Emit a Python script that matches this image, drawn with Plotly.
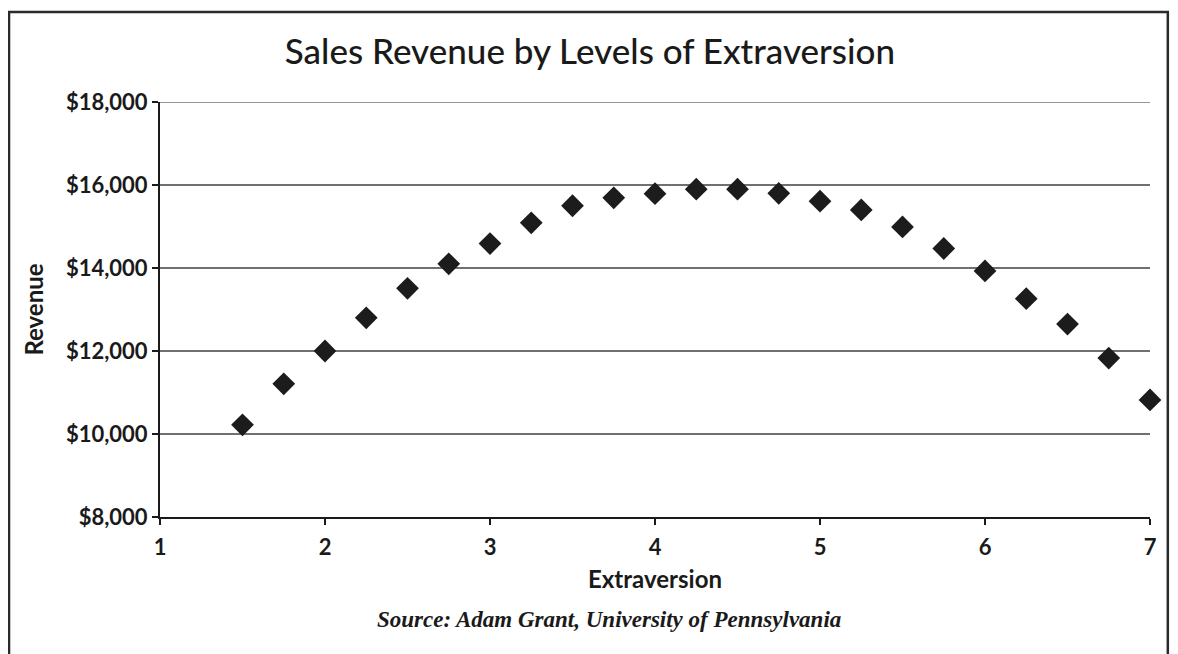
import plotly.graph_objects as go

extraversion = [1.5, 1.75, 2.0, 2.25, 2.5, 2.75, 3.0, 3.25, 3.5, 3.75, 4.0, 4.25,
                4.5, 4.75, 5.0, 5.25, 5.5, 5.75, 6.0, 6.25, 6.5, 6.75, 7.0]
revenue = [10220, 11210, 12000, 12800, 13510, 14100, 14590, 15090, 15500, 15690, 15790, 15900,
           15900, 15800, 15610, 15400, 14990, 14470, 13930, 13260, 12650, 11830, 10820]
x_ticks = [1, 2, 3, 4, 5, 6, 7]
y_ticks = [8000, 10000, 12000, 14000, 16000, 18000]
y_tick_labels = ["$8,000", "$10,000", "$12,000", "$14,000", "$16,000", "$18,000"]

title_text = "Sales Revenue by Levels of Extraversion"
x_title = "Extraversion"
y_title = "Revenue"
source_text = "Source: Adam Grant, University of Pennsylvania"

INK = "#1a1a1a"

fig = go.Figure()
fig.add_trace(go.Scatter(
    x=extraversion, y=revenue, mode="markers",
    marker=dict(symbol="diamond", size=17.5, color="#1c1c1c", line=dict(width=0)),
    showlegend=False, cliponaxis=False,
))

# page body has an 8px margin, so the figure is shifted by 8px right/down
fig.update_layout(
    width=1178, height=654,
    margin=dict(l=152, r=36, t=94, b=145),
    paper_bgcolor="white", plot_bgcolor="white",
    title=dict(text=title_text, x=0.494, xanchor="center", y=0.933, yanchor="middle",
               font=dict(family="Lato", size=35, color=INK, weight=500)),
    font=dict(family="Lato", color=INK),
)

fig.update_xaxes(
    range=[1, 7], tickvals=x_ticks, ticktext=["<b>" + str(v) + "</b>" for v in x_ticks],
    showgrid=False, zeroline=False,
    showline=True, linecolor=INK, linewidth=2,
    ticks="outside", ticklen=6, tickwidth=2, tickcolor=INK,
    ticklabelstandoff=4,
    tickfont=dict(family="Lato", size=22, color=INK),
    title=dict(text="<b>" + x_title + "</b>", font=dict(family="Lato", size=24, color=INK), standoff=12),
)
fig.update_yaxes(
    range=[8000, 18000], tickvals=y_ticks, ticktext=["<b>" + t + "</b>" for t in y_tick_labels],
    showgrid=True, gridcolor="#707070", gridwidth=1.5, zeroline=False,
    showline=True, linecolor=INK, linewidth=2,
    ticks="outside", ticklen=6, tickwidth=2, tickcolor=INK,
    tickfont=dict(family="Lato", size=22, color=INK),
    title=dict(text="<b>" + y_title + "</b>", font=dict(family="Lato", size=24, color=INK), standoff=15),
)

# gridline at the top of the range
fig.add_shape(type="line", xref="paper", yref="y", x0=0, x1=1,
              y0=y_ticks[-1], y1=y_ticks[-1], line=dict(color="#707070", width=1.5), layer="below")

fig.add_annotation(
    text="<b><i>" + source_text + "</i></b>", xref="paper", yref="paper",
    x=0.4535, y=-0.246, xanchor="center", yanchor="middle", showarrow=False,
    font=dict(family="Liberation Serif", size=23, color=INK),
)

fig.add_shape(type="rect", xref="paper", yref="paper",
              x0=-0.1525, x1=1.018, y0=-0.5, y1=1.217,
              line=dict(color="#2a2a2a", width=2.5), fillcolor="rgba(0,0,0,0)", layer="below")

fig.write_html("out.html")
